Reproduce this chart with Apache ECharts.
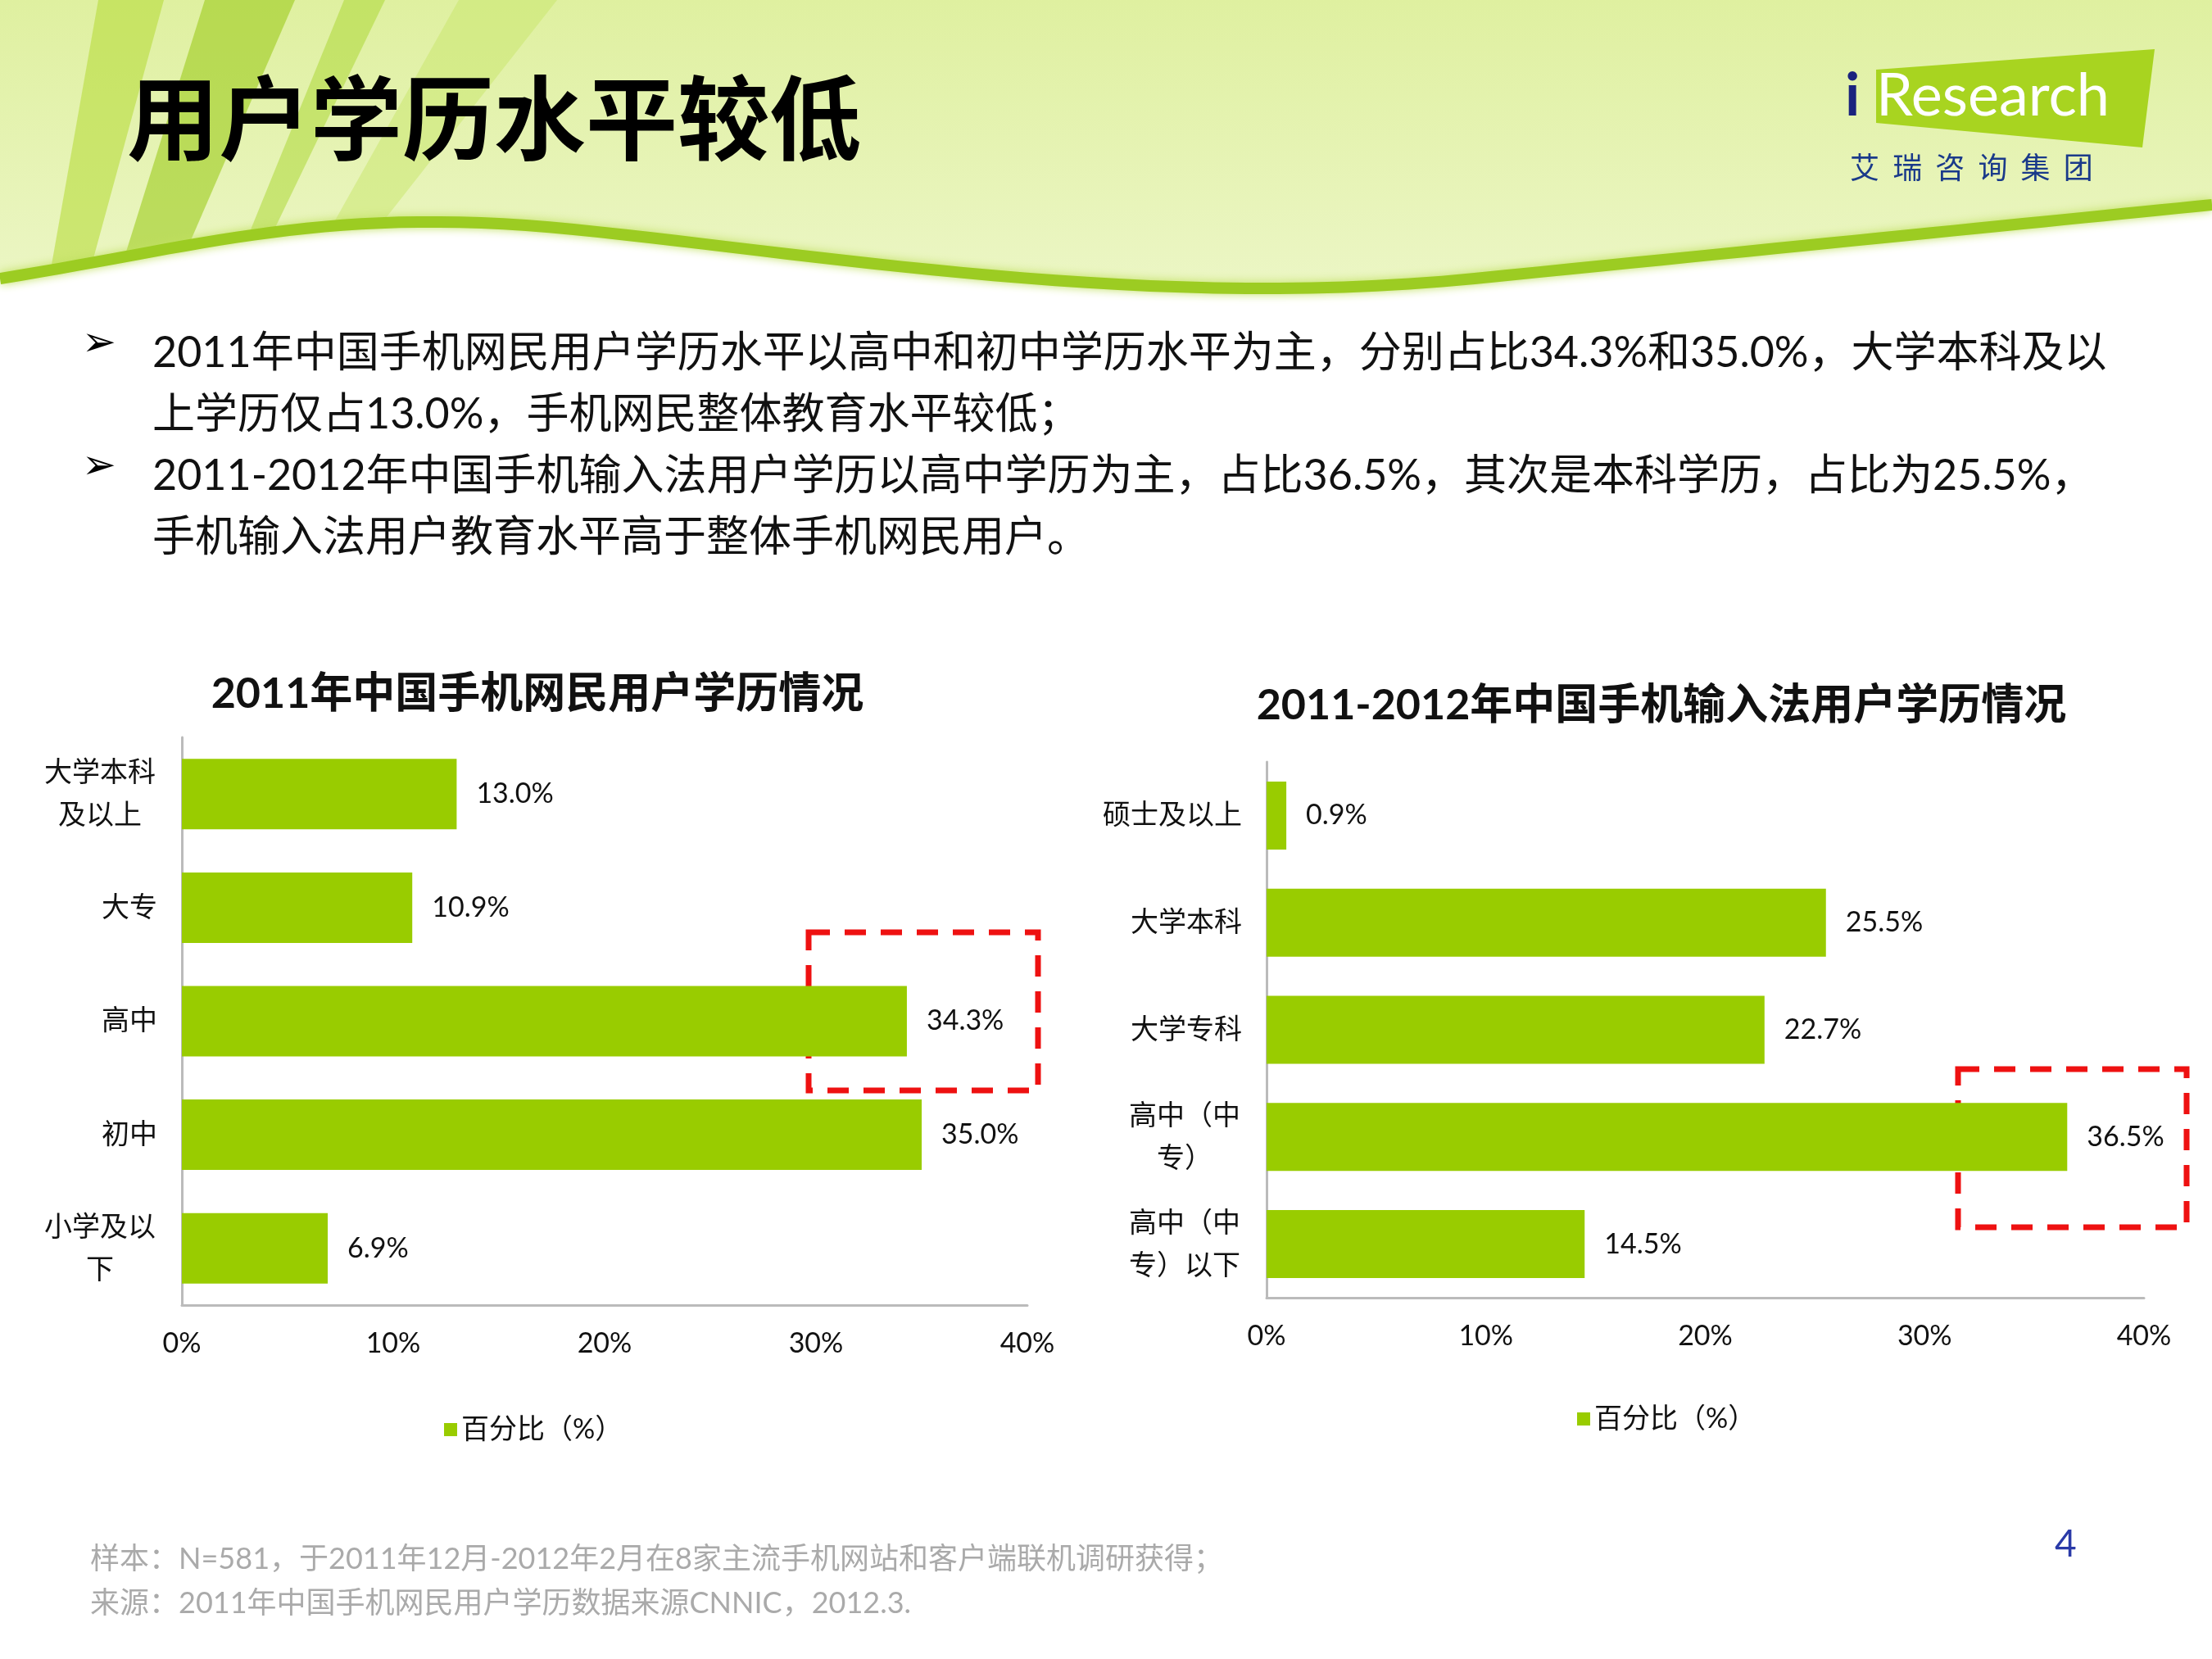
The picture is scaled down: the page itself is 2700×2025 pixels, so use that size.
<!DOCTYPE html>
<html><head><meta charset="utf-8">
<script src="https://cdn.jsdelivr.net/npm/echarts@6/dist/echarts.min.js"></script>
<style>html,body{margin:0;padding:0;background:#fff}#c{width:2700px;height:2025px}</style>
</head><body><div id="c"></div>
<script>
var cats1 = ['大学本科\n及以上', '大专', '高中', '初中', '小学及以\n下'];
var vals1 = [13.0, 10.9, 34.3, 35.0, 6.9];
var cats2 = ['硕士及以上', '大学本科', '大学专科', '高中（中\n专）', '高中（中\n专）以下'];
var vals2 = [0.9, 25.5, 22.7, 36.5, 14.5];
var seriesName = '百分比（%）';
var FF = 'Lato, "Noto Sans CJK SC", sans-serif';
var chart = echarts.init(document.getElementById('c'));
function xa(i){return {gridIndex:i,type:'value',min:0,max:40,interval:10,
  axisLabel:{formatter:'{value}%',fontSize:34,color:'#111',fontFamily:FF,margin:30},
  splitLine:{show:false},axisLine:{show:true,lineStyle:{color:'#bbb',width:3}},axisTick:{show:false}};}
function ya(i,c){return {gridIndex:i,type:'category',data:c,inverse:true,
  axisLabel:{fontSize:34,color:'#111',fontFamily:FF,lineHeight:52,margin:30,
    formatter:function(v){ if(v.indexOf('\n')<0) return v;
      return v.split('\n').map(function(l){return '{c|'+l+'}';}).join('\n');},
    rich:{c:{width:140,align:'center',fontSize:34,lineHeight:52,color:'#111',fontFamily:FF}}},
  axisLine:{lineStyle:{color:'#bbb',width:3}},axisTick:{show:false}};}
function ser(i,v,w){return {name:seriesName,type:'bar',xAxisIndex:i,yAxisIndex:i,data:v,barWidth:w,
  itemStyle:{color:'#99cc00'},
  label:{show:true,position:'right',distance:24,fontSize:34,color:'#111',fontFamily:FF,formatter:function(p){return p.value.toFixed(1)+'%';}}};}
var segs = [[[0,340],[250,300],[400,250],[700,280]],[[700,280],[1000,310],[1400,380],[1800,340]],[[1800,340],[2200,300],[2500,270],[2700,250]]];
var wavePts = [];
segs.forEach(function(s){for(var k=0;k<=30;k++){var t=k/30,u=1-t;
  wavePts.push([u*u*u*s[0][0]+3*u*u*t*s[1][0]+3*u*t*t*s[2][0]+t*t*t*s[3][0],
                u*u*u*s[0][1]+3*u*u*t*s[1][1]+3*u*t*t*s[2][1]+t*t*t*s[3][1]]);}});
var fillPts = wavePts.concat([[2700,430],[0,430]]);
chart.setOption({
  animation:false,
  graphic:[
    {type:'rect',z:-10,shape:{x:0,y:0,width:2700,height:420},style:{fill:{type:'linear',x:0,y:0,x2:0,y2:1,colorStops:[{offset:0,color:'#dff0a0'},{offset:1,color:'#eef7cc'}]}}},
    {type:'polygon',z:-9,shape:{points:[[120,0],[200,0],[110,330],[60,340]]},style:{fill:'#b8dc3c',opacity:0.6}},
    {type:'polygon',z:-9,shape:{points:[[250,0],[360,0],[230,300],[150,320]]},style:{fill:'#9ccc1c',opacity:0.6}},
    {type:'polygon',z:-9,shape:{points:[[420,0],[470,0],[330,290],[300,295]]},style:{fill:'#a8d62c',opacity:0.5}},
    {type:'polygon',z:-9,shape:{points:[[560,0],[680,0],[460,280],[400,285]]},style:{fill:'#c8e66a',opacity:0.5}},
    {type:'polygon',z:-8,shape:{points:fillPts},style:{fill:'#ffffff'}},
    {type:'polyline',z:-7,shape:{points:wavePts},style:{stroke:'#9ccc22',lineWidth:14,shadowBlur:12,shadowColor:'#c0e060'}},
    {type:'text',left:155,top:88,style:{text:'用户学历水平较低',font:'bold 112px "Noto Sans CJK SC"',fill:'#000'}},
    {type:'polygon',shape:{points:[[2290,85],[2630,60],[2615,180],[2290,150]]},style:{fill:'#a8d420'}},
    {type:'text',left:2252,top:82,style:{text:'i',font:'bold 72px Lato',fill:'#1a237e'}},
    {type:'text',left:2290,top:82,style:{text:'Research',font:'72px Lato',fill:'#ffffff'}},
    {type:'text',left:2258,top:186,style:{text:'艾  瑞  咨  询  集  团',font:'36px "Noto Sans CJK SC"',fill:'#1a3a8a'}},
    {type:'text',left:100,top:396,style:{text:'➢',font:'bold 50px "DejaVu Sans"',fill:'#000'}},
    {type:'text',left:100,top:546,style:{text:'➢',font:'bold 50px "DejaVu Sans"',fill:'#000'}},
    {type:'text',left:186,top:394,style:{text:'2011年中国手机网民用户学历水平以高中和初中学历水平为主，分别占比34.3%和35.0%，大学本科及以\n上学历仅占13.0%，手机网民整体教育水平较低；',font:'52px Lato, "Noto Sans CJK SC"',lineHeight:75,fill:'#111'}},
    {type:'text',left:186,top:544,style:{text:'2011-2012年中国手机输入法用户学历以高中学历为主，占比36.5%，其次是本科学历，占比为25.5%，\n手机输入法用户教育水平高于整体手机网民用户。',font:'52px Lato, "Noto Sans CJK SC"',lineHeight:75,fill:'#111'}},
    {type:'text',left:110,top:1876,style:{text:'样本：N=581，于2011年12月-2012年2月在8家主流手机网站和客户端联机调研获得；\n来源：2011年中国手机网民用户学历数据来源CNNIC，2012.3.',font:'36px Lato, "Noto Sans CJK SC"',lineHeight:54,fill:'#aaaaaa'}},
    {type:'text',left:2508,top:1862,style:{text:'4',font:'46px Lato',fill:'#2a3aa8'}},
    {type:'rect',shape:{x:987,y:1138,width:280,height:193},style:{fill:null,stroke:'#ee1111',lineWidth:7,lineDash:[26,18]}},
    {type:'rect',shape:{x:2390,y:1305,width:279,height:193},style:{fill:null,stroke:'#ee1111',lineWidth:7,lineDash:[26,18]}}
  ],
  title:[
    {text:'2011年中国手机网民用户学历情况',left:651,top:816,textAlign:'center',textStyle:{fontSize:52,fontWeight:'bold',color:'#111',fontFamily:FF}},
    {text:'2011-2012年中国手机输入法用户学历情况',left:2023,top:830,textAlign:'center',textStyle:{fontSize:52,fontWeight:'bold',color:'#111',fontFamily:FF}}
  ],
  legend:[
    {data:[seriesName],left:537,top:1723,itemWidth:16,itemHeight:16,icon:'rect',textStyle:{fontSize:34,color:'#111',fontFamily:FF}},
    {data:[seriesName],left:1920,top:1710,itemWidth:16,itemHeight:16,icon:'rect',textStyle:{fontSize:34,color:'#111',fontFamily:FF}}
  ],
  grid:[{left:222,width:1032,top:900,height:693},{left:1546,width:1071,top:930,height:654}],
  xAxis:[xa(0),xa(1)],
  yAxis:[ya(0,cats1),ya(1,cats2)],
  series:[ser(0,vals1,86),ser(1,vals2,83)]
});
</script></body></html>
